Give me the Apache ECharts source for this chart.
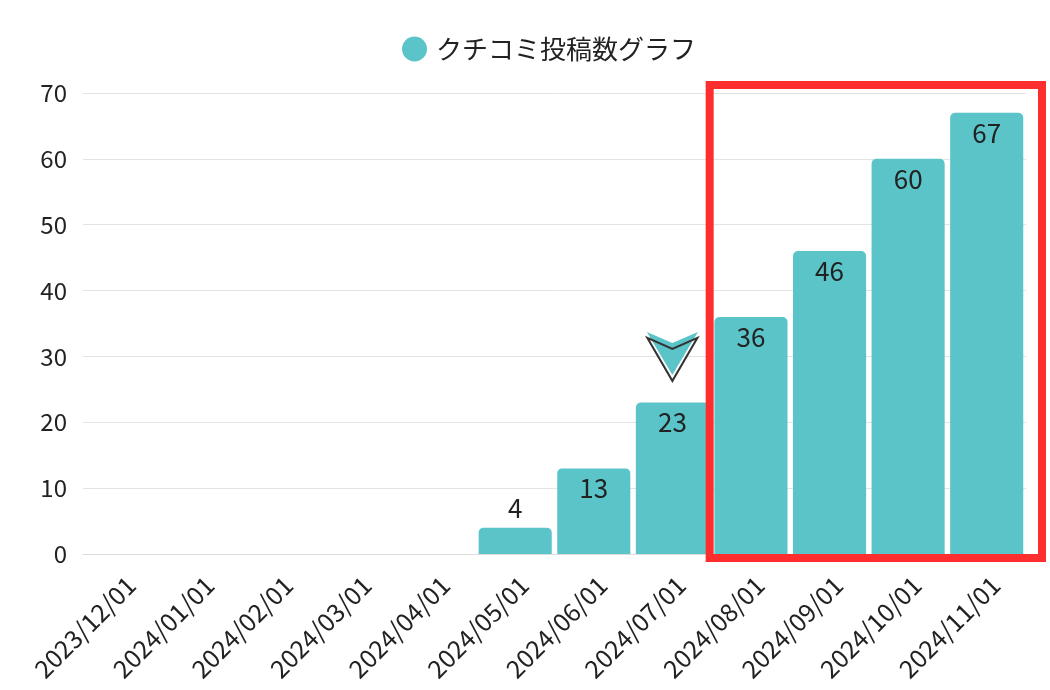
<!DOCTYPE html>
<html>
<head>
<meta charset="utf-8">
<script src="https://cdn.jsdelivr.net/npm/echarts@6/dist/echarts.min.js"></script>
<style>
html,body{margin:0;padding:0;background:#fff;}
#c{width:1050px;height:690px;}
</style>
</head>
<body>
<div id="c"></div>
<script>
const seriesName = 'クチコミ投稿数グラフ';
const categories = ['2023/12/01','2024/01/01','2024/02/01','2024/03/01','2024/04/01','2024/05/01','2024/06/01','2024/07/01','2024/08/01','2024/09/01','2024/10/01','2024/11/01'];
const counts = [0,0,0,0,0,4,13,23,36,46,60,67];
const yMin = 0, yMax = 70, yStep = 10;
const markerCategory = '2024/07/01';
const markerValue = 30;
const highlightFrom = '2024/08/01';
const highlightTo = '2024/11/01';

const FONT = '"Noto Sans CJK JP","Noto Sans",sans-serif';
const TEAL = '#5bc4c8';
const chevron = 'path://M0,0 L25,11 L50,0 L25,43 Z';

const chart = echarts.init(document.getElementById('c'));
chart.setOption({
  animation: false,
  textStyle: {fontFamily: FONT},
  legend: {
    top: 31, left: 397,
    icon: 'circle', itemWidth: 25, itemHeight: 25, itemGap: 10,
    textStyle: {fontSize: 26, color: '#222', fontFamily: FONT, padding: [0,0,0,4]},
    data: [seriesName]
  },
  grid: {left: 83, right: 24, top: 93, bottom: 136},
  xAxis: {
    type: 'category',
    data: categories,
    axisLine: {show: true, lineStyle: {color: '#dcdcdc'}},
    axisTick: {show: false},
    axisLabel: {rotate: 45, fontSize: 25, color: '#222', margin: 18, verticalAlign: 'top', fontFamily: FONT, interval: 0}
  },
  yAxis: {
    type: 'value', min: yMin, max: yMax, interval: yStep,
    axisLine: {show: false}, axisTick: {show: false},
    axisLabel: {fontSize: 24, color: '#222', margin: 16, fontFamily: FONT},
    splitLine: {lineStyle: {color: '#e3e3e3'}}
  },
  series: [{
    name: seriesName,
    type: 'bar',
    barCategoryGap: '7%',
    itemStyle: {color: TEAL, borderRadius: [5,5,0,0]},
    data: counts.map(v => ({
      value: v,
      label: {show: v > 0, position: v < 8 ? 'top' : 'insideTop'}
    })),
    label: {fontSize: 26, color: '#222', fontFamily: FONT, distance: 7},
    markPoint: {
      silent: true,
      label: {show: false},
      data: [
        {coord: [markerCategory, markerValue], symbol: chevron, symbolSize: [51,43], symbolOffset: [0,-3],
         itemStyle: {color: TEAL}},
        {coord: [markerCategory, markerValue], symbol: chevron, symbolSize: [50,43], symbolOffset: [0,3],
         itemStyle: {color: 'rgba(0,0,0,0)', borderColor: '#333', borderWidth: 2}}
      ]
    }
  }]
});

// highlight frame computed from the axes
const p1 = chart.convertToPixel({gridIndex: 0}, [highlightFrom, yMax]);
const p1b = chart.convertToPixel({gridIndex: 0}, [categories[categories.indexOf(highlightFrom)+1], yMin]);
const p2 = chart.convertToPixel({gridIndex: 0}, [highlightTo, yMin]);
const bandW = p1b[0] - p1[0];
const frameL = p1[0] - bandW/2 - 2;
const frameR = p2[0] + bandW/2 + 16;
const frameT = p1[1] - 8;
const frameB = p2[1] + 4;
chart.setOption({
  graphic: [{
    type: 'rect', z: 100, silent: true,
    shape: {x: frameL, y: frameT, width: frameR - frameL, height: frameB - frameT},
    style: {fill: 'none', stroke: '#fe2e2e', lineWidth: 8}
  }]
});
</script>
</body>
</html>
